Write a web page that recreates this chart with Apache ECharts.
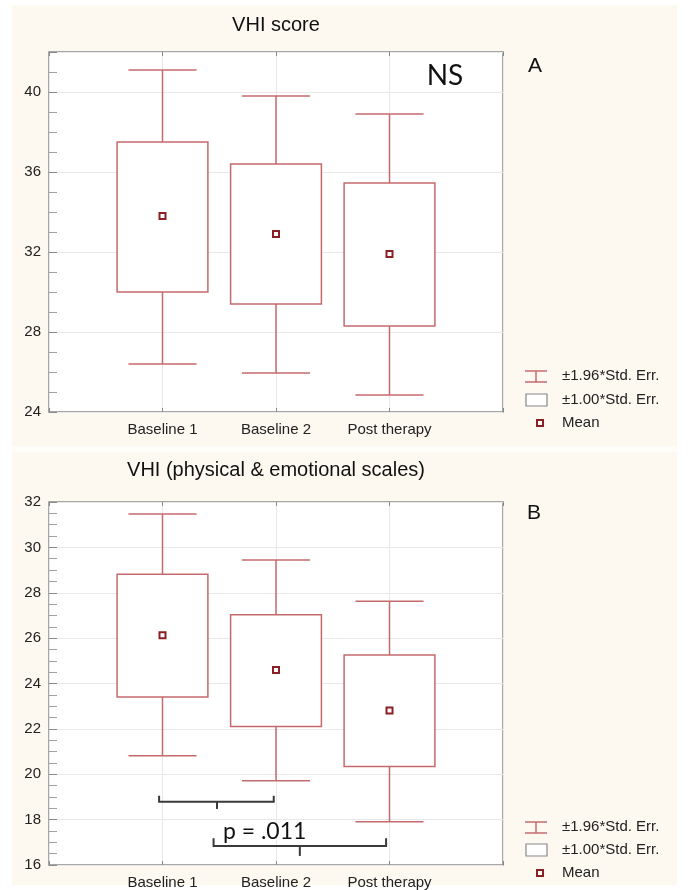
<!DOCTYPE html>
<html>
<head>
<meta charset="utf-8">
<script src="https://cdn.jsdelivr.net/npm/echarts@6/dist/echarts.min.js"></script>
<style>
html,body{margin:0;padding:0;background:#ffffff;}
#chart{width:689px;height:890px;}
</style>
</head>
<body>
<div id="chart"></div>
<script>
// ---- data ----
const categories = ['Baseline 1', 'Baseline 2', 'Post therapy'];
const categoryPos = [1, 2, 3];

// Panel A: VHI score
const aMean     = [33.8, 32.9, 31.9];
const aBoxLow   = [30.0, 29.4, 28.3];
const aBoxHigh  = [37.5, 36.4, 35.45];
const aWhiskLow = [26.4, 25.95, 24.85];
const aWhiskHigh= [41.1, 39.8, 38.9];
const aTicks = [24, 28, 32, 36, 40];

// Panel B: VHI (physical & emotional scales)
const bMean     = [26.13, 24.59, 22.81];
const bBoxLow   = [23.40, 22.10, 20.34];
const bBoxHigh  = [28.82, 27.03, 25.26];
const bWhiskLow = [20.81, 19.71, 17.91];
const bWhiskHigh= [31.47, 29.44, 27.63];
const bTicks = [16, 18, 20, 22, 24, 26, 28, 30, 32];

// significance brackets in panel B (axis units)
const bracketX1   = [0.97, 1.45];
const bracketX2   = [1.98, 2.97];
const bracketY    = [18.79, 16.84];
const bracketEndY = [19.05, 17.18];
const bracketMidX = [1.48, 2.21];
const bracketMidY = [18.47, 16.40];
const pLabel = ['p = .011'];
const pLabelPos = [[1.90, 17.46]];

const legendLabels = ['\u00b11.96*Std. Err.', '\u00b11.00*Std. Err.', 'Mean'];

// ---- styles ----
const RED = '#c46a6c';
const DARKRED = '#8b1f24';
const FONT = '"Liberation Sans", Arial, sans-serif';
const CAL = 'Lato, "Open Sans", sans-serif';
const TL = 4; // tick length, drawn inside the frame via negative offset

function rows(mean, lo, hi, wlo, whi) {
  return categoryPos.map((x, i) => [x, lo[i], hi[i], wlo[i], whi[i], mean[i]]);
}

function renderBox(params, api) {
  const x = api.value(0);
  const lo = api.coord([x, api.value(1)]);
  const hi = api.coord([x, api.value(2)]);
  const wlo = api.coord([x, api.value(3)]);
  const whi = api.coord([x, api.value(4)]);
  const mn = api.coord([x, api.value(5)]);
  const hb = api.size([0.4, 0])[0];
  const hc = api.size([0.3, 0])[0];
  const ls = {stroke: RED, lineWidth: 1.5, fill: null};
  return {
    type: 'group',
    children: [
      {type: 'line', shape: {x1: whi[0], y1: whi[1], x2: hi[0], y2: hi[1]}, style: ls},
      {type: 'line', shape: {x1: lo[0], y1: lo[1], x2: wlo[0], y2: wlo[1]}, style: ls},
      {type: 'line', shape: {x1: whi[0]-hc, y1: whi[1], x2: whi[0]+hc, y2: whi[1]}, style: ls},
      {type: 'line', shape: {x1: wlo[0]-hc, y1: wlo[1], x2: wlo[0]+hc, y2: wlo[1]}, style: ls},
      {type: 'rect', shape: {x: hi[0]-hb, y: hi[1], width: 2*hb, height: lo[1]-hi[1]}, style: {stroke: RED, lineWidth: 1.5, fill: '#fff'}},
      {type: 'rect', shape: {x: mn[0]-3, y: mn[1]-3, width: 6, height: 6}, style: {stroke: DARKRED, lineWidth: 2, fill: '#fff'}}
    ]
  };
}

function renderBracket(params, api) {
  const x1 = api.value(0), x2 = api.value(1), y = api.value(2), ey = api.value(3), mx = api.value(4), my = api.value(5);
  const a = api.coord([x1, ey]), b = api.coord([x1, y]), c = api.coord([x2, y]), d = api.coord([x2, ey]);
  const m1 = api.coord([mx, y]), m2 = api.coord([mx, my]);
  const st = {stroke: '#3a3a3a', lineWidth: 2, fill: null};
  return {
    type: 'group',
    children: [
      {type: 'polyline', shape: {points: [a, b, c, d]}, style: st},
      {type: 'line', shape: {x1: m1[0], y1: m1[1], x2: m2[0], y2: m2[1]}, style: st}
    ]
  };
}

const TICK = {show: true, length: TL, lineStyle: {color: '#8a8a8a', width: 1}};
const MINOR = {show: true, splitNumber: 4, length: TL, lineStyle: {color: '#a0a0a0', width: 1}};

function xAxisPair(gridIndex) {
  return [{
    type: 'value', gridIndex: gridIndex, min: 0, max: 4, interval: 1, position: 'bottom', offset: -TL,
    axisLine: {show: false},
    axisTick: TICK,
    axisLabel: {color: '#222', fontFamily: FONT, fontSize: 15, margin: 10 + TL,
      formatter: v => { const i = categoryPos.indexOf(v); return i >= 0 ? categories[i] : ''; }},
    splitLine: {show: true, lineStyle: {color: '#e8e8e8', width: 1}}
  }, {
    type: 'value', gridIndex: gridIndex, min: 0, max: 4, interval: 1, position: 'top', offset: -TL,
    axisLine: {show: false},
    axisTick: TICK,
    axisLabel: {show: false}, splitLine: {show: false}
  }];
}

function yAxisPair(gridIndex, min, max, interval, ticks) {
  return [{
    type: 'value', gridIndex: gridIndex, min: min, max: max, interval: interval, position: 'left', offset: -TL,
    axisLine: {show: false},
    axisTick: TICK,
    minorTick: MINOR,
    axisLabel: {color: '#222', fontFamily: FONT, fontSize: 15, margin: 8 + TL,
      formatter: v => ticks.indexOf(v) >= 0 ? String(v) : ''},
    splitLine: {show: true, lineStyle: {color: '#e8e8e8', width: 1}}
  }, {
    type: 'value', gridIndex: gridIndex, min: min, max: max, interval: interval, position: 'right', offset: -TL,
    axisLine: {show: false},
    axisTick: TICK,
    minorTick: MINOR,
    axisLabel: {show: false}, splitLine: {show: false}
  }];
}

function legendGraphics(y1, y2, y3) {
  const tx = 562;
  const ts = {fill: '#222', font: '15px ' + FONT, textVerticalAlign: 'middle'};
  return [
    {type: 'line', shape: {x1: 525, y1: y1-5, x2: 547, y2: y1-5}, style: {stroke: RED, lineWidth: 1.5}},
    {type: 'line', shape: {x1: 525, y1: y1+6, x2: 547, y2: y1+6}, style: {stroke: RED, lineWidth: 1.5}},
    {type: 'line', shape: {x1: 536, y1: y1-5, x2: 536, y2: y1+6}, style: {stroke: RED, lineWidth: 1.5}},
    {type: 'text', x: tx, y: y1, style: Object.assign({text: legendLabels[0]}, ts)},
    {type: 'rect', shape: {x: 526, y: y2-6, width: 21, height: 12}, style: {stroke: '#888', lineWidth: 1.2, fill: '#fff'}},
    {type: 'text', x: tx, y: y2, style: Object.assign({text: legendLabels[1]}, ts)},
    {type: 'rect', shape: {x: 537, y: y3-3, width: 6, height: 6}, style: {stroke: DARKRED, lineWidth: 2, fill: '#fff'}},
    {type: 'text', x: tx, y: y3, style: Object.assign({text: legendLabels[2]}, ts)}
  ];
}

const chart = echarts.init(document.getElementById('chart'), null, {renderer: 'canvas'});

const option = {
  backgroundColor: '#ffffff',
  animation: false,
  grid: [
    {left: 49, top: 52, width: 454, height: 360, show: true, backgroundColor: '#ffffff', borderColor: '#8a8a8a', borderWidth: 1.5},
    {left: 49, top: 502, width: 454, height: 363, show: true, backgroundColor: '#ffffff', borderColor: '#8a8a8a', borderWidth: 1.5}
  ],
  xAxis: xAxisPair(0).concat(xAxisPair(1)),
  yAxis: yAxisPair(0, 24, 42, 4, aTicks).concat(yAxisPair(1, 16, 32, 2, bTicks)),
  graphic: [
    {type: 'rect', z: -10, shape: {x: 12, y: 5, width: 665, height: 880}, style: {fill: '#fdf9f0'}},
    {type: 'rect', z: -9, shape: {x: 12, y: 446, width: 665, height: 6}, style: {fill: '#fffdf9'}},
    {type: 'text', x: 276, y: 25, style: {text: 'VHI score', fill: '#111', font: '20px ' + FONT, textAlign: 'center', textVerticalAlign: 'middle'}},
    {type: 'text', x: 276, y: 470, style: {text: 'VHI (physical & emotional scales)', fill: '#111', font: '20px ' + FONT, textAlign: 'center', textVerticalAlign: 'middle'}},
    {type: 'text', x: 535, y: 66, style: {text: 'A', fill: '#111', font: '21px ' + FONT, textAlign: 'center', textVerticalAlign: 'middle'}},
    {type: 'text', x: 534, y: 513, style: {text: 'B', fill: '#111', font: '21px ' + FONT, textAlign: 'center', textVerticalAlign: 'middle'}},
    {type: 'text', x: 445, y: 76, z: 100, style: {text: 'NS', fill: '#111', font: '28px ' + CAL, textAlign: 'center', textVerticalAlign: 'middle'}}
  ].concat(legendGraphics(376, 400, 423)).concat(legendGraphics(827, 850, 873)),
  series: [
    {type: 'custom', xAxisIndex: 0, yAxisIndex: 0, renderItem: renderBox, encode: {x: 0, y: [1, 2, 3, 4, 5]},
      data: rows(aMean, aBoxLow, aBoxHigh, aWhiskLow, aWhiskHigh), z: 5},
    {type: 'custom', xAxisIndex: 2, yAxisIndex: 2, renderItem: renderBox, encode: {x: 0, y: [1, 2, 3, 4, 5]},
      data: rows(bMean, bBoxLow, bBoxHigh, bWhiskLow, bWhiskHigh), z: 5},
    {type: 'custom', xAxisIndex: 2, yAxisIndex: 2, renderItem: renderBracket, encode: {x: [0, 1], y: [2, 3]},
      data: bracketX1.map((v, i) => [v, bracketX2[i], bracketY[i], bracketEndY[i], bracketMidX[i], bracketMidY[i]]), z: 6},
    {type: 'custom', xAxisIndex: 2, yAxisIndex: 2, encode: {x: 0, y: 1},
      renderItem: (params, api) => {
        const p = api.coord([api.value(0), api.value(1)]);
        return {type: 'text', x: p[0], y: p[1], style: {text: pLabel[params.dataIndex], fill: '#111', font: '23px ' + CAL, textAlign: 'center', textVerticalAlign: 'middle'}};
      },
      data: pLabelPos, z: 7}
  ]
};
chart.setOption(option);
</script>
</body>
</html>
